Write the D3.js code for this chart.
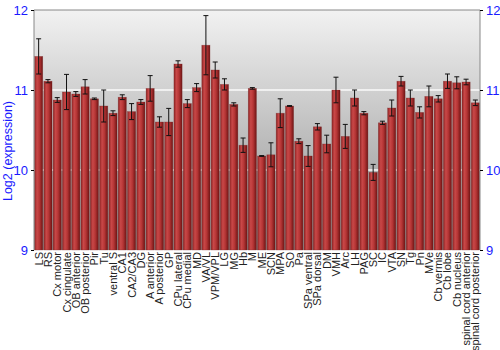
<!DOCTYPE html>
<html>
<head>
<meta charset="utf-8">
<script src="https://cdn.jsdelivr.net/npm/d3@7"></script>
<style>
  body { margin: 0; background: #fff; }
  text { font-family: "Liberation Sans", Arial, sans-serif; }
</style>
</head>
<body>
<div id="chart"></div>
<script>
// brain regions on the x axis
var regions = ["LS", "RS", "Cx motor", "Cx cingulate", "OB anterior", "OB posterior", "Pir", "Tu",
  "ventral S", "CA1", "CA2/CA3", "DG", "A anterior", "A posterior", "GP", "CPu lateral",
  "CPu medial", "MD", "VA/VL", "VPM/VPL", "LG", "MG", "Hb", "M", "ME", "SCN", "MPA", "SO",
  "Pa", "SPa ventral", "SPa dorsal", "DM", "VMH", "Arc", "LH", "PAG", "SC", "IC", "VTA", "SN",
  "Tg", "Pn", "MVe", "Cb vermis", "Cb lobe", "Cb nucleus", "spinal cord anterior", "spinal cord posterior"];

// mean log2 expression
var means = [11.42, 11.11, 10.875, 10.975, 10.95, 11.04, 10.89, 10.8,
  10.71, 10.91, 10.73, 10.85, 11.02, 10.6, 10.6, 11.325,
  10.83, 11.03, 11.56, 11.25, 11.07, 10.82, 10.31, 11.02, 10.175, 10.19, 10.71, 10.8,
  10.36, 10.175, 10.54, 10.325, 11.0, 10.42, 10.9, 10.71, 9.97, 10.59, 10.775, 11.11,
  10.9, 10.72, 10.92, 10.89, 11.11, 11.09, 11.1, 10.84];

// half length of the error bars
var errs = [0.22, 0.02, 0.03, 0.22, 0.03, 0.09, 0.01, 0.2,
  0.03, 0.03, 0.1, 0.03, 0.16, 0.065, 0.17, 0.04,
  0.05, 0.05, 0.37, 0.1, 0.07, 0.02, 0.09, 0.01, 0.005, 0.15, 0.18, 0.005,
  0.03, 0.13, 0.04, 0.11, 0.16, 0.15, 0.1, 0.02, 0.1, 0.02, 0.1, 0.06,
  0.1, 0.07, 0.13, 0.04, 0.09, 0.075, 0.035, 0.035];

var yTicks = [9, 10, 11, 12];
var gridVals = [10, 11];

var W = 500, H = 350;
var margin = {top: 10, right: 20, bottom: 100, left: 34};

var svg = d3.select("#chart").append("svg")
  .attr("width", W)
  .attr("height", H);

var defs = svg.append("defs");

// grey background fading down
var bg = defs.append("linearGradient")
  .attr("id", "bg").attr("x1", "0%").attr("y1", "0%").attr("x2", "0%").attr("y2", "100%");
bg.append("stop").attr("offset", "0%").attr("stop-color", "#f2f2f2");
bg.append("stop").attr("offset", "100%").attr("stop-color", "#8e8e8e");

// red bars, shaded across
var bar = defs.append("linearGradient")
  .attr("id", "bar").attr("x1", "0%").attr("y1", "0%").attr("x2", "100%").attr("y2", "0%");
bar.append("stop").attr("offset", "0%").attr("stop-color", "#8e2424");
bar.append("stop").attr("offset", "30%").attr("stop-color", "#c94848");
bar.append("stop").attr("offset", "60%").attr("stop-color", "#b53535");
bar.append("stop").attr("offset", "100%").attr("stop-color", "#6e1414");

var x = d3.scaleBand()
  .domain(regions)
  .range([margin.left, W - margin.right])
  .paddingInner(0.12)
  .paddingOuter(0.06);

var y = d3.scaleLinear()
  .domain([9, 12])
  .range([H - margin.bottom, margin.top]);

// plot background
svg.append("rect")
  .attr("x", margin.left)
  .attr("y", margin.top)
  .attr("width", W - margin.right - margin.left)
  .attr("height", H - margin.bottom - margin.top)
  .style("fill", "url(#bg)");

// white grid lines
svg.selectAll(".grid")
  .data(gridVals)
  .enter().append("line")
  .attr("x1", margin.left)
  .attr("x2", W - margin.right)
  .attr("y1", function(d) { return y(d); })
  .attr("y2", function(d) { return y(d); })
  .style("stroke", "#fafafa")
  .style("stroke-width", 1.5);

// bars
svg.selectAll(".bar")
  .data(regions)
  .enter().append("rect")
  .attr("x", function(d) { return x(d); })
  .attr("width", x.bandwidth())
  .attr("y", function(d, i) { return y(means[i]); })
  .attr("height", function(d, i) { return y(9) - y(means[i]); })
  .style("fill", "url(#bar)")
  .style("stroke", "#7a2a2a")
  .style("stroke-opacity", 0.5)
  .style("stroke-width", 0.6);

// error bars
var eb = svg.selectAll(".err")
  .data(regions)
  .enter().append("g")
  .attr("transform", function(d) { return "translate(" + (x(d) + x.bandwidth() / 2) + ",0)"; });

eb.append("line")
  .attr("y1", function(d, i) { return y(means[i] + errs[i]); })
  .attr("y2", function(d, i) { return y(means[i] - errs[i]); })
  .style("stroke", "#111")
  .style("stroke-width", 1);
eb.append("line")
  .attr("x1", -2.5).attr("x2", 2.5)
  .attr("y1", function(d, i) { return y(means[i] + errs[i]); })
  .attr("y2", function(d, i) { return y(means[i] + errs[i]); })
  .style("stroke", "#111");
eb.append("line")
  .attr("x1", -2.5).attr("x2", 2.5)
  .attr("y1", function(d, i) { return y(means[i] - errs[i]); })
  .attr("y2", function(d, i) { return y(means[i] - errs[i]); })
  .style("stroke", "#111");

// frame lines: top, left, right
svg.append("line")
  .attr("x1", margin.left).attr("x2", W - margin.right)
  .attr("y1", margin.top).attr("y2", margin.top)
  .style("stroke", "#888");

// left and right axes
var yLeft = d3.axisLeft(y).tickValues(yTicks).tickSize(3).tickFormat(d3.format("d"));
var yRight = d3.axisRight(y).tickValues(yTicks).tickSize(3).tickFormat(d3.format("d"));

function styleAxis(g) {
  g.select(".domain").style("stroke", "#888");
  g.selectAll(".tick line").style("stroke", "#000");
  g.selectAll(".tick text")
    .style("fill", "#1a1aff")
    .style("font-size", "13px")
    .style("font-family", "Liberation Sans, Arial, sans-serif");
}

svg.append("g")
  .attr("transform", "translate(" + margin.left + ",0)")
  .call(yLeft)
  .call(styleAxis)
  .call(function(g) { g.select(".domain").attr("d", "M0," + y(12) + "V" + y(9)); });

svg.append("g")
  .attr("transform", "translate(" + (W - margin.right) + ",0)")
  .call(yRight)
  .call(styleAxis)
  .call(function(g) { g.select(".domain").attr("d", "M0," + y(12) + "V" + y(9)); });

// rotated category labels
svg.selectAll(".xlab")
  .data(regions)
  .enter().append("text")
  .attr("transform", function(d) {
    return "translate(" + (x(d) + x.bandwidth() / 2 + 4) + "," + (y(9) + 2) + ") rotate(-90)";
  })
  .style("text-anchor", "end")
  .style("font-size", "11px")
  .style("fill", "#222")
  .text(function(d) { return d; });

// y axis title
svg.append("text")
  .attr("transform", "translate(12,151) rotate(-90)")
  .style("text-anchor", "middle")
  .style("font-size", "12.5px")
  .style("fill", "#1a1aff")
  .text("Log2 (expression)");
</script>
</body>
</html>
